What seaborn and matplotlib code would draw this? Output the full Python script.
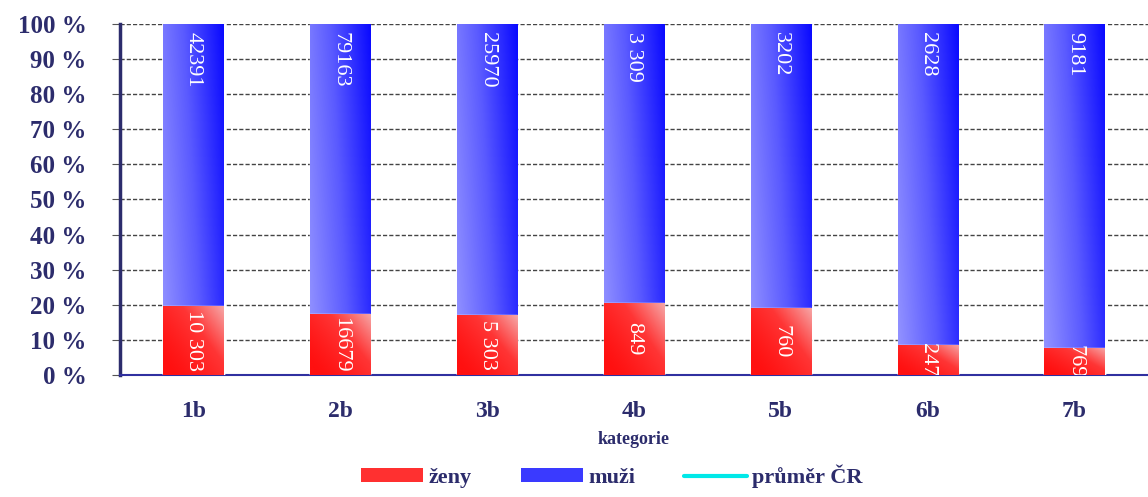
import numpy as np
import pandas as pd
import matplotlib.pyplot as plt
from matplotlib.colors import LinearSegmentedColormap
from matplotlib.patches import Patch
from matplotlib.lines import Line2D

import seaborn as sns
sns.set_style("white")
plt.rcParams["font.family"] = ["Liberation Serif", "DejaVu Serif"]

categories = ["1b", "2b", "3b", "4b", "5b", "6b", "7b"]
zeny = [10303, 16679, 5303, 849, 760, 247, 769]
muzi = [42391, 79163, 25970, 3309, 3202, 2628, 9181]
zeny_labels = ["10 303", "16679", "5 303", "849", "760", "247", "769"]
muzi_labels = ["42391", "79163", "25970", "3 309", "3202", "2628", "9181"]

navy = "#2c2c6c"

df = pd.DataFrame({"kategorie": categories, "zeny": zeny, "muzi": muzi})
df["total"] = df["zeny"] + df["muzi"]
df["podil_zeny"] = df["zeny"] / df["total"]
df["podil_celkem"] = 1.0

fig = plt.figure(figsize=(11.48, 4.97), dpi=100)
ax = fig.add_axes([0.1045, 0.2455, 0.8955, 0.7062])

# blue = whole bar (100 %), red drawn over it
sns.barplot(data=df, x="kategorie", y="podil_celkem", color="#4040ff",
            width=0.41, saturation=1, ax=ax, zorder=3)
sns.barplot(data=df, x="kategorie", y="podil_zeny", color="#ff2020",
            width=0.41, saturation=1, ax=ax, zorder=4)

blue_cmap = LinearSegmentedColormap.from_list("b", ["#9494ff", "#5a5aff", "#0a0aff"])
red_cmap = LinearSegmentedColormap.from_list("r", ["#ff1010", "#ff3535", "#f6a8a8"])

n = len(categories)
patches = list(ax.patches)
gx, gy = np.meshgrid(np.linspace(0, 1, 60), np.linspace(0, 1, 200))
for i, p in enumerate(patches):
    x0, y0 = p.get_x(), p.get_y()
    w, h = p.get_width(), p.get_height()
    if i < n:
        grad = 0.75 * gx + 0.25 * (1 - gy)
        cmap, z = blue_cmap, 3.5
    else:
        grad = np.clip(0.6 * gx + 0.5 * (1 - gy) - 0.1, 0, 1) ** 1.3
        cmap, z = red_cmap, 4.5
    im = ax.imshow(grad, extent=[x0, x0 + w, y0, y0 + h], origin="upper",
                   cmap=cmap, aspect="auto", zorder=z, interpolation="bilinear")
    im.set_clip_path(p)

# value labels
for i in range(n):
    ax.text(i, 0.977, muzi_labels[i], rotation=270, ha="center", va="top",
            color="white", fontsize=16, zorder=6, clip_on=True)
    ax.text(i, df["podil_zeny"][i] / 2, zeny_labels[i], rotation=270,
            ha="center", va="center", color="white", fontsize=16, zorder=6,
            clip_on=True)

ax.set_xlim(-0.5, 6.46)
ax.set_ylim(0, 1)
ax.set_yticks(np.arange(0, 1.01, 0.1))
ax.set_yticklabels([f"{v} %" for v in range(0, 101, 10)], fontsize=18,
                   fontweight="bold", color=navy)
ax.set_xticks(range(n))
ax.set_xticklabels(categories, fontsize=17, fontweight="bold", color=navy)
ax.set_xticks(np.arange(0.5, n, 1), minor=True)
ax.tick_params(axis="x", which="major", length=0, pad=19)
ax.tick_params(axis="x", which="minor", length=5, color="#555555", direction="out")
ax.tick_params(axis="y", length=6, color="#555555", pad=18, direction="out", left=True)
ax.set_xlabel("kategorie", fontsize=13, fontweight="bold", color=navy, labelpad=6)
ax.set_ylabel("")

ax.yaxis.grid(True, linestyle=(0, (3, 1.5)), color="#444444", linewidth=1, zorder=0)
ax.set_axisbelow(True)
for s in ["top", "right"]:
    ax.spines[s].set_visible(False)
ax.spines["left"].set_color(navy)
ax.spines["left"].set_linewidth(2.5)
ax.spines["bottom"].set_color("#3030a0")
ax.spines["bottom"].set_linewidth(1.5)

handles = [Patch(facecolor="#ff3030", edgecolor="none"),
           Patch(facecolor="#3a3aff", edgecolor="none"),
           Line2D([0], [0], color="#00e8e8", linewidth=3)]
fig.legend(handles, ["ženy", "muži", "průměr ČR"], loc="lower center",
           bbox_to_anchor=(0.533, -0.022), ncol=3, frameon=False,
           handlelength=2.8, handleheight=0.55, columnspacing=2.2, handletextpad=0.25,
           prop={"weight": "bold", "size": 16}, labelcolor=navy)

fig.savefig("out.png", dpi=100)
